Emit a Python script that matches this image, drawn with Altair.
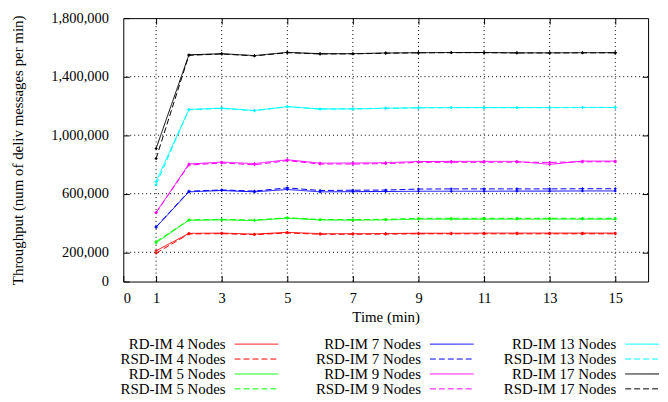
import altair as alt
import pandas as pd

# ---- data ----
minutes = list(range(1, 16))

rd_4 = [210000, 329000, 331000, 324000, 336000, 327000, 327000, 328000, 330000, 330000, 331000, 331000, 331000, 331000, 331000]
rsd_4 = [194000, 325000, 327000, 320000, 332000, 323000, 323000, 324000, 326000, 326000, 326000, 326000, 326000, 326000, 326000]
rd_5 = [265000, 419000, 421000, 417000, 433000, 421000, 419000, 421000, 426000, 426000, 426000, 426000, 426000, 426000, 426000]
rsd_5 = [272000, 421000, 424000, 420000, 436000, 424000, 423000, 425000, 432000, 432000, 432000, 432000, 432000, 432000, 432000]
rd_7 = [371000, 613000, 622000, 613000, 629000, 613000, 614000, 615000, 617000, 617000, 617000, 618000, 618000, 619000, 619000]
rsd_7 = [373000, 617000, 626000, 618000, 640000, 622000, 624000, 625000, 632000, 633000, 633000, 633000, 633000, 634000, 634000]
rd_9 = [472000, 803000, 816000, 806000, 832000, 809000, 810000, 812000, 820000, 821000, 821000, 821000, 801000, 823000, 823000]
rsd_9 = [470000, 796000, 810000, 798000, 826000, 803000, 803000, 806000, 814000, 815000, 815000, 816000, 814000, 818000, 818000]
rd_13 = [684000, 1176000, 1185000, 1169000, 1196000, 1180000, 1180000, 1185000, 1188000, 1189000, 1189000, 1189000, 1189000, 1190000, 1190000]
rsd_13 = [662000, 1174000, 1183000, 1167000, 1194000, 1178000, 1179000, 1183000, 1187000, 1188000, 1188000, 1188000, 1188000, 1189000, 1189000]
rd_17 = [909000, 1549000, 1557000, 1544000, 1566000, 1557000, 1557000, 1562000, 1564000, 1565000, 1565000, 1563000, 1563000, 1564000, 1564000]
rsd_17 = [840000, 1546000, 1555000, 1542000, 1564000, 1555000, 1556000, 1560000, 1563000, 1564000, 1564000, 1562000, 1562000, 1563000, 1563000]

series_names = [
    "RD-IM 4 Nodes", "RSD-IM 4 Nodes", "RD-IM 5 Nodes", "RSD-IM 5 Nodes",
    "RD-IM 7 Nodes", "RSD-IM 7 Nodes", "RD-IM 9 Nodes", "RSD-IM 9 Nodes",
    "RD-IM 13 Nodes", "RSD-IM 13 Nodes", "RD-IM 17 Nodes", "RSD-IM 17 Nodes",
]
series_values = [rd_4, rsd_4, rd_5, rsd_5, rd_7, rsd_7, rd_9, rsd_9, rd_13, rsd_13, rd_17, rsd_17]
series_colors = [
    "#ff0000", "#ff0000", "#00ff00", "#00ff00", "#0000ff", "#0000ff",
    "#ff00ff", "#ff00ff", "#00ffff", "#00ffff", "#000000", "#000000",
]

x_tick_values = [0, 1, 3, 5, 7, 9, 11, 13, 15]
x_grid_values = [1, 3, 5, 7, 9, 11, 13, 15]
y_tick_values = [0, 200000, 600000, 1000000, 1400000, 1800000]
y_grid_values = [200000, 600000, 1000000, 1400000]

# ---- tables ----
rows = []
for name, col, vals in zip(series_names, series_colors, series_values):
    style = "dashed" if name.startswith("RSD") else "solid"
    for t, v in zip(minutes, vals):
        rows.append({"series": name, "time": t, "value": v, "style": style, "col_hex": col})
df = pd.DataFrame(rows)

leg_df = pd.DataFrame({
    "series": series_names,
    "col": [i // 4 for i in range(len(series_names))],
    "row": [i % 4 for i in range(len(series_names))],
    "style": ["dashed" if n.startswith("RSD") else "solid" for n in series_names],
    "col_hex": series_colors,
})

FONT = "'Times New Roman', 'Liberation Serif', serif"
W, H = 528, 265

xscale = alt.Scale(domain=[0, 16], nice=False, zero=False)
yscale = alt.Scale(domain=[0, 1800000], nice=False)
dash_scale = alt.Scale(domain=["solid", "dashed"], range=[[1, 0], [6, 3]])

grid_y = alt.Chart(pd.DataFrame({"v": y_grid_values})).mark_rule(
    color="black", strokeDash=[1, 3], strokeWidth=1
).encode(
    y=alt.Y("v:Q", scale=yscale, axis=alt.Axis(
        orient="right", values=y_grid_values, labels=False, domain=False,
        grid=False, ticks=True, tickSize=6, offset=-6, title=None))
)

grid_x = alt.Chart(pd.DataFrame({"v": x_grid_values})).mark_rule(
    color="black", strokeDash=[1, 3], strokeWidth=1
).encode(
    x=alt.X("v:Q", scale=xscale, axis=alt.Axis(
        orient="top", values=x_grid_values, labels=False, domain=False,
        grid=False, ticks=True, tickSize=6, offset=-6, title=None))
)

lines = alt.Chart(df).mark_line(
    strokeWidth=1,
    point=alt.OverlayMarkDef(shape="cross", size=8, filled=True),
).encode(
    x=alt.X("time:Q", scale=xscale, axis=alt.Axis(
        orient="bottom", values=x_tick_values, domain=False, grid=False,
        tickSize=6, offset=-6, labelPadding=10, title="Time (min)", titlePadding=5)),
    y=alt.Y("value:Q", scale=yscale, axis=alt.Axis(
        orient="left", values=y_tick_values, format=",d", domain=False, grid=False,
        tickSize=6, offset=-6, labelPadding=15,
        title="Throughput (num of deliv messages per min)", titlePadding=25)),
    color=alt.Color("col_hex:N", scale=None, legend=None),
    strokeDash=alt.StrokeDash("style:N", scale=dash_scale, legend=None),
    detail="series:N",
)

main = alt.layer(grid_y, grid_x, lines).resolve_axis(
    x="independent", y="independent"
).properties(width=W, height=H)

# ---- legend drawn as its own small chart ----
LW, LH = 539, 60
leg_x = alt.Scale(domain=[-103 / 196.5, (LW - 103) / 196.5], nice=False, zero=False)
leg_y = alt.Scale(domain=[-7 / 15, 53 / 15], nice=False, zero=False, reverse=True)

leg_text = alt.Chart(leg_df).mark_text(
    align="right", baseline="middle", font=FONT, fontSize=15, color="black"
).encode(
    x=alt.X("col:Q", scale=leg_x, axis=None),
    y=alt.Y("row:Q", scale=leg_y, axis=None),
    text="series:N",
)
leg_line = alt.Chart(leg_df).mark_rule(
    strokeWidth=1, xOffset=9, x2Offset=53, clip=True
).encode(
    x=alt.X("col:Q", scale=leg_x, axis=None),
    x2="col:Q",
    y=alt.Y("row:Q", scale=leg_y, axis=None),
    color=alt.Color("col_hex:N", scale=None, legend=None),
    strokeDash=alt.StrokeDash("style:N", scale=dash_scale, legend=None),
)
legend = alt.layer(leg_text, leg_line).properties(
    width=LW, height=LH, view=alt.ViewBackground(stroke="transparent")
)

chart = alt.vconcat(main, legend, spacing=11).properties(
    padding={"left": 2, "right": 0, "top": 0, "bottom": 0}
).configure_view(
    stroke="black", strokeWidth=1
).configure_axis(
    labelFont=FONT, labelFontSize=14.5, labelColor="black",
    titleFont=FONT, titleFontSize=15, titleFontWeight="normal", titleColor="black",
    tickColor="black", tickWidth=1,
)

chart.save("out.html", embed_options={"renderer": "svg", "actions": False})
